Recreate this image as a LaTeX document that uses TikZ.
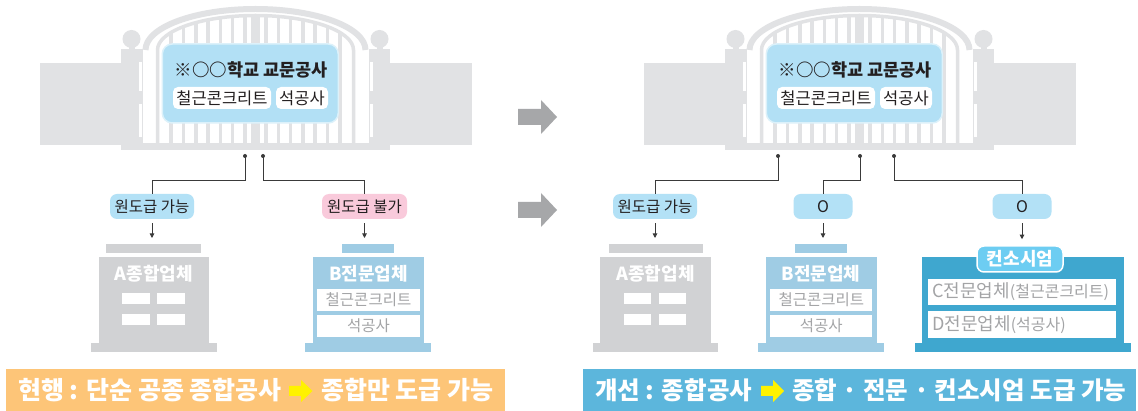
\documentclass[tikz,border=0pt]{standalone}
\usepackage{fontspec}
\setmainfont{Noto Sans CJK KR}
\usetikzlibrary{arrows.meta}

\definecolor{gateGray}{HTML}{E1E2E4}
\definecolor{boxBlue}{HTML}{B2E0F5}
\definecolor{labBlue}{HTML}{B3E1F6}
\definecolor{labPink}{HTML}{F9CADB}
\definecolor{bldGray}{HTML}{D1D2D4}
\definecolor{bldBlue}{HTML}{9FCCE4}
\definecolor{consBlue}{HTML}{3FA7CF}
\definecolor{tagBlue}{HTML}{6DCDF2}
\definecolor{banOrange}{HTML}{FDC578}
\definecolor{banBlue}{HTML}{5CB6DC}
\definecolor{arrGray}{HTML}{A6A7A9}
\definecolor{arrYellow}{HTML}{FFF200}
\definecolor{textDark}{HTML}{231F20}
\definecolor{boxGray}{HTML}{A3A4A6}
\definecolor{lineDark}{HTML}{3A3A3A}

\newcommand\fs[1]{\fontsize{#1}{#1}\selectfont}

\tikzset{
  conn/.style={draw=lineDark, line width=0.9pt},
  arr/.style={conn, -{Triangle[length=4.5pt,width=4.5pt]}, shorten <=4pt, shorten >=6pt},
  lab/.style={fill=labBlue, rounded corners=7pt, minimum height=25pt, inner sep=0pt,
              text=textDark, font=\fs{15.5}},
  subbox/.style={fill=white, rounded corners=5pt, minimum height=22pt, inner sep=0pt,
                 text=textDark, font=\fs{16.5}},
  wbox/.style={fill=white, inner sep=0pt, text=boxGray, font=\fs{15.5}},
  bldtitle/.style={text=white, font=\bfseries\fs{18}, inner sep=0pt},
  bantext/.style={text=white, font=\bfseries\fs{25}, inner sep=0pt, anchor=west},
}

% school gate with walls, pillars and the works box; #1 = centre x, #2 = name prefix
\newcommand\schoolgate[2]{%
\begin{scope}[xshift=#1pt]
  \fill[gateGray] (-215.5,63) rectangle (-134.5,145);
  \fill[gateGray] (134.5,63) rectangle (216.5,145);
  \foreach \s in {-1,1}{
    \fill[gateGray] (\s*113,49) rectangle (\s*134.5,150);
    \fill[gateGray] (\s*124,39) circle (9pt);
    \fill[gateGray] (\s*121,44) rectangle (\s*127,50);
    \fill[white] (\s*114,62) rectangle (\s*117,91);
    \fill[white] (\s*114,104) rectangle (\s*117,137);
  }
  \begin{scope}
    \clip (-98,143) -- (-98,50) arc[start angle=180,end angle=0,x radius=98pt,y radius=34.5pt]
          -- (98,143) -- cycle;
    \foreach \k in {0,...,6}{
      \fill[gateGray] ({-10.5-12.3*\k-1.75},0) rectangle ++(3.5,150);
      \fill[gateGray] ({10.5+12.3*\k-1.75},0) rectangle ++(3.5,150);
    }
    \fill[gateGray] (-4.5,0) rectangle (4.5,150);
  \end{scope}
  \draw[gateGray, line width=6pt] (-110,50) arc[start angle=180,end angle=0,x radius=110pt,y radius=41pt];
  \draw[gateGray, line width=3.5pt] (-98,143) -- (-98,50)
        arc[start angle=180,end angle=0,x radius=98pt,y radius=34.5pt] -- (98,143);
  \fill[gateGray] (-113,143) rectangle (113,150);
  \node[draw=white!55!boxBlue, line width=1.5pt, fill=boxBlue, rounded corners=10pt,
        minimum width=176pt, minimum height=79pt, inner sep=0pt] (#2box) at (-5.2,83.5) {};
  \node[font=\bfseries\fs{17.5}, text=textDark, inner sep=0pt] (#2title) at (-4,70) {※○○학교 교문공사};
  \node[subbox, minimum width=98pt] (#2rc) at (-33.5,98) {철근콘크리트};
  \node[subbox, minimum width=52pt] (#2st) at (46.5,98) {석공사};
\end{scope}}

\begin{document}
\begin{tikzpicture}[x=1pt,y=-1pt]
  \useasboundingbox (0,0) rectangle (1138,411);
  \fill[white] (0,0) rectangle (1138,411);

  % ---------- gates ----------
  \schoolgate{255.5}{L}
  \schoolgate{859.5}{R}

  % ---------- arrows between the panels ----------
  \fill[arrGray] (518,109) -- (541,109) -- (541,100) -- (557,117) -- (541,134) -- (541,125) -- (518,125) -- cycle;
  \fill[arrGray] (518,202) -- (541,202) -- (541,193) -- (557,210) -- (541,227) -- (541,218) -- (518,218) -- cycle;

  % ---------- left panel: labels ----------
  \node[lab, minimum width=84pt] (l1) at (152,206.5) {원도급 가능};
  \node[lab, fill=labPink, minimum width=85pt] (l2) at (364.5,206.5) {원도급 불가};

  \coordinate (ld1) at (245,156);
  \coordinate (ld2) at (263,156);
  \fill[lineDark] (ld1) circle (2pt);
  \fill[lineDark] (ld2) circle (2pt);
  \draw[conn] (ld1) |- (l1.north |- 0,180) -- (l1.north);
  \draw[conn] (ld2) |- (l2.north |- 0,180) -- (l2.north);

  % ---------- left panel: A general contractor ----------
  \coordinate (lAtop) at (154,244);
  \fill[bldGray] (106,244) rectangle (201,253);
  \fill[bldGray] (99,257) rectangle (209,343);
  \fill[bldGray] (91,343) rectangle (217,352);
  \foreach \wx in {122,157} \foreach \wy in {293,314}
    \fill[white] (\wx,\wy) rectangle ++(27.5,11);
  \node[bldtitle] (lA) at (154,274) {A종합업체};

  % ---------- left panel: B specialty contractor ----------
  \coordinate (lBtop) at (368,244);
  \fill[bldBlue] (342,244) rectangle (394,253);
  \fill[bldBlue] (313,257) rectangle (424,343);
  \fill[bldBlue] (305,343) rectangle (431,352);
  \node[bldtitle] (lB) at (368.5,274) {B전문업체};
  \node[wbox, minimum width=103pt, minimum height=22pt] (lB1) at (368.5,300) {철근콘크리트};
  \node[wbox, minimum width=103pt, minimum height=22pt] (lB2) at (368.5,326) {석공사};

  \draw[arr] (l1.south) -- (l1.south |- lAtop);
  \draw[arr] (l2.south) -- (l2.south |- lBtop);

  % ---------- right panel: labels ----------
  \node[lab, minimum width=84pt] (r1) at (655,206.5) {원도급 가능};
  \node[lab, minimum width=59pt, font=\fs{16}] (r2) at (823,206.5) {O};
  \node[lab, minimum width=59pt, font=\fs{16}] (r3) at (1022,206.5) {O};

  \coordinate (rd1) at (778,156);
  \coordinate (rd2) at (860,156);
  \coordinate (rd3) at (894,156);
  \foreach \d in {rd1,rd2,rd3} \fill[lineDark] (\d) circle (2pt);
  \draw[conn] (rd1) |- (r1.north |- 0,180) -- (r1.north);
  \draw[conn] (rd2) |- (r2.north |- 0,180) -- (r2.north);
  \draw[conn] (rd3) |- (r3.north |- 0,180) -- (r3.north);

  % ---------- right panel: A general contractor ----------
  \coordinate (rAtop) at (655,244);
  \fill[bldGray] (608.5,244) rectangle (703,253);
  \fill[bldGray] (600,257) rectangle (711,343);
  \fill[bldGray] (592.5,343) rectangle (718,352);
  \foreach \wx in {623.5,658.5} \foreach \wy in {293,314}
    \fill[white] (\wx,\wy) rectangle ++(27.5,11);
  \node[bldtitle] (rA) at (655.5,274) {A종합업체};

  % ---------- right panel: B specialty contractor ----------
  \coordinate (rBtop) at (821,244);
  \fill[bldBlue] (795,244) rectangle (847,253);
  \fill[bldBlue] (766,257) rectangle (876.5,343);
  \fill[bldBlue] (758,343) rectangle (884,352);
  \node[bldtitle] (rB) at (821,274) {B전문업체};
  \node[wbox, minimum width=102pt, minimum height=22pt] (rB1) at (821.3,300) {철근콘크리트};
  \node[wbox, minimum width=102pt, minimum height=22pt] (rB2) at (821.3,326) {석공사};

  % ---------- right panel: consortium ----------
  \fill[consBlue] (922,257) rectangle (1124,343);
  \fill[consBlue] (915,343) rectangle (1131,352);
  \node[draw=white, line width=1.5pt, fill=tagBlue, rounded corners=7pt, minimum width=86pt,
        minimum height=26pt, inner sep=0pt, text=white, font=\bfseries\fs{18}] (cons) at (1020,259) {컨소시엄};
  \node[wbox, minimum width=188pt, minimum height=26pt] (rC) at (1022,292) {};
  \node[wbox, minimum width=188pt, minimum height=27pt] (rD) at (1022,324.5) {};
  \node[text=boxGray, inner sep=0pt, anchor=west] (rCt) at (932,292)
        {{\fs{18}C전문업체}{\fs{16}(철근콘크리트)}};
  \node[text=boxGray, inner sep=0pt, anchor=west] (rDt) at (932,324.5)
        {{\fs{18}D전문업체}{\fs{16}(석공사)}};

  \draw[arr] (r1.south) -- (r1.south |- rAtop);
  \draw[arr] (r2.south) -- (r2.south |- rBtop);
  \draw[arr] (r3.south) -- (r3.south |- cons.north);

  % ---------- banners ----------
  \fill[banOrange] (6,369) rectangle (505,411);
  \node[bantext] (bl1) at (18,390) {현행 : 단순 공종 종합공사};
  \fill[arrYellow] (289,386) -- (301,386) -- (301,380) -- (312.5,391) -- (301,402) -- (301,396) -- (289,396) -- cycle;
  \node[bantext] (bl2) at (321,390) {종합만 도급 가능};

  \fill[banBlue] (583,369) rectangle (1136,411);
  \node[bantext, font=\bfseries\fs{24.5}] (br1) at (595,390) {개선 : 종합공사};
  \fill[arrYellow] (761,386) -- (773,386) -- (773,380) -- (784,391) -- (773,402) -- (773,396) -- (761,396) -- cycle;
  \node[bantext, font=\bfseries\fs{24.5}] (br2) at (792,390) {종합 · 전문 · 컨소시엄 도급 가능};
\end{tikzpicture}
\end{document}
